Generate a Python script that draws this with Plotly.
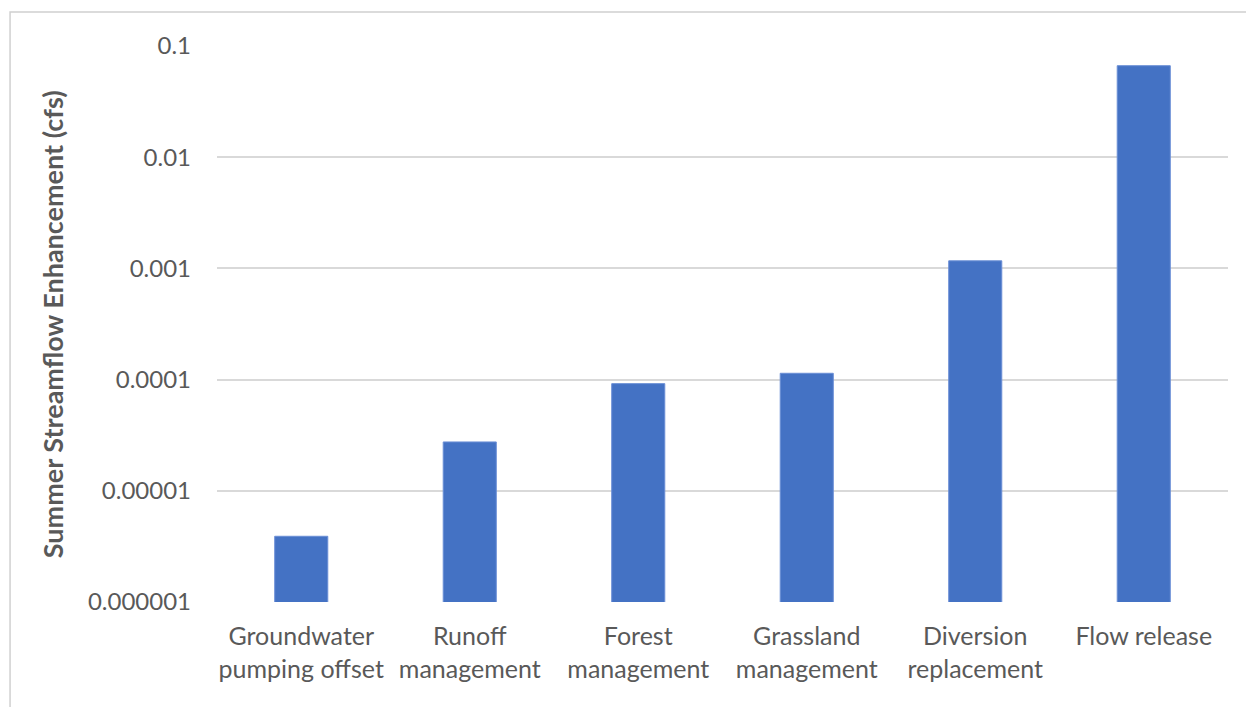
import plotly.graph_objects as go

# Summer streamflow enhancement by practice (cfs), log scale
categories = [
    "Groundwater<br>pumping offset",
    "Runoff<br>management",
    "Forest<br>management",
    "Grassland<br>management",
    "Diversion<br>replacement",
    "Flow release",
]
enhancement_cfs = [3.9e-6, 2.75e-5, 9.2e-5, 1.14e-4, 1.17e-3, 0.0665]

y_tick_vals = [1e-6, 1e-5, 1e-4, 1e-3, 1e-2, 1e-1]
y_tick_text = ["0.000001", "0.00001", "0.0001", "0.001", "0.01", "0.1"]

FONT = "Lato, Calibri, Carlito, sans-serif"
TEXT = "#595959"
GRID = "#d9d9d9"

fig = go.Figure(
    go.Bar(
        x=categories,
        y=enhancement_cfs,
        marker=dict(color="#4472C4", line=dict(color="#6b8fd6", width=1)),
        hoverinfo="x+y",
    )
)

fig.update_layout(
    width=1246,
    height=707,
    margin=dict(l=217, r=18, t=46, b=105),
    paper_bgcolor="white",
    plot_bgcolor="white",
    bargap=0.685,
    showlegend=False,
    font=dict(family=FONT, size=24, color=TEXT),
)

fig.update_xaxes(
    showgrid=False,
    showline=False,
    ticks="",
    tickfont=dict(family=FONT, size=25, color=TEXT),
    ticklabelstandoff=17,
)

fig.update_yaxes(
    type="log",
    range=[-6, -1],
    tickvals=y_tick_vals,
    ticktext=y_tick_text,
    showgrid=True,
    gridcolor=GRID,
    gridwidth=1.5,
    zeroline=False,
    showline=False,
    ticks="",
    tickfont=dict(family=FONT, size=24, color=TEXT),
    ticklabelstandoff=25,
)

# Axis title
fig.add_annotation(
    text="<b>Summer Streamflow Enhancement (cfs)</b>",
    textangle=-90,
    xref="paper", yref="paper",
    x=-0.163, y=0.5,
    xanchor="center", yanchor="middle",
    showarrow=False,
    font=dict(family=FONT, size=27, color=TEXT),
)

# Chart frame
fig.add_shape(
    type="rect",
    xref="paper", yref="paper",
    x0=-0.2047, x1=1.05, y0=-0.3, y1=1.061,
    line=dict(color="#d0d0d0", width=1.5),
    fillcolor="rgba(0,0,0,0)",
    layer="below",
)

fig.write_html("out.html")
